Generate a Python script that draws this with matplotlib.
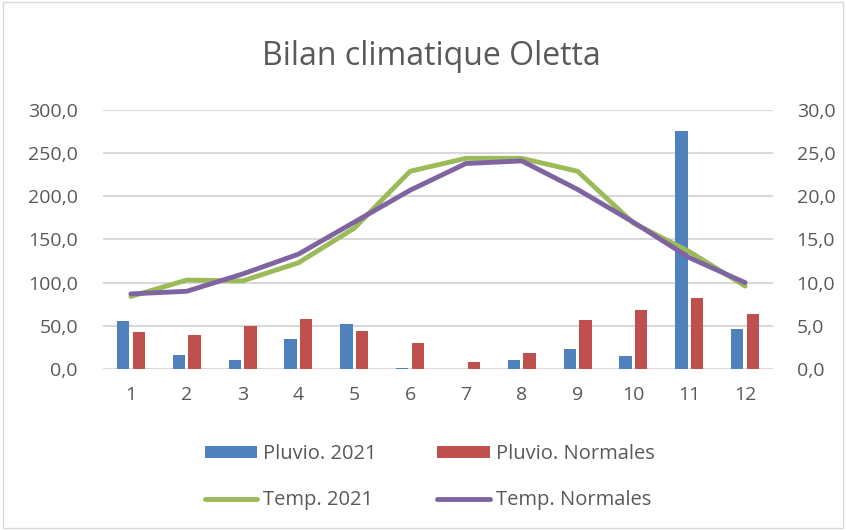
#!/usr/bin/env python3
import numpy as np
import matplotlib
matplotlib.use("Agg")
import matplotlib.pyplot as plt
from matplotlib.ticker import FuncFormatter
from matplotlib.patches import Rectangle

months = [1, 2, 3, 4, 5, 6, 7, 8, 9, 10, 11, 12]
pluvio_2021 = [55.4, 16.6, 10.1, 35.3, 52.4, 1.5, 0.0, 10.1, 23.6, 14.7, 275.1, 46.1]
pluvio_normales = [43.4, 39.1, 50.0, 57.4, 43.8, 30.6, 8.5, 18.6, 56.6, 67.9, 81.8, 63.2]
temp_2021 = [8.4, 10.3, 10.2, 12.3, 16.3, 22.9, 24.4, 24.4, 22.9, 16.9, 13.6, 9.6]
temp_normales = [8.7, 9.0, 11.0, 13.3, 17.0, 20.7, 23.8, 24.1, 20.8, 17.0, 12.9, 10.0]

BLUE = "#4F81BD"
RED = "#C0504D"
GREEN = "#9BBB59"
PURPLE = "#8064A2"
TXT = "#595959"
GRID = "#D9D9D9"


def comma_fmt(v, pos):
    return f"{v:.1f}".replace(".", ",")


def main():
    plt.rcParams["font.family"] = ["Open Sans", "DejaVu Sans"]
    fig = plt.figure(figsize=(8.46, 5.30), dpi=100)
    fig.patches.append(Rectangle((0.003, 0.004), 0.994, 0.992, transform=fig.transFigure,
                                 fill=False, edgecolor=GRID, linewidth=1.0))

    ax = fig.add_axes([0.1217, 0.3038, 0.7920, 0.4887])
    x = np.arange(len(months))
    w = 0.22
    ax.bar(x - 0.14, pluvio_2021, w, color=BLUE, label="Pluvio. 2021", zorder=2)
    ax.bar(x + 0.14, pluvio_normales, w, color=RED, label="Pluvio. Normales", zorder=2)
    ax.set_ylim(0, 300)
    ax.set_yticks(np.arange(0, 301, 50))
    ax.yaxis.set_major_formatter(FuncFormatter(comma_fmt))
    ax.set_xlim(-0.5, len(months) - 0.5)
    ax.set_xticks(x)
    ax.set_xticklabels([str(m) for m in months])
    ax.grid(axis="y", color=GRID, linewidth=1.5, zorder=0)
    ax.set_axisbelow(True)
    for s in ax.spines.values():
        s.set_visible(False)
    ax.tick_params(length=0, labelsize=14, colors=TXT)
    ax.tick_params(axis="x", pad=12)
    ax.tick_params(axis="y", pad=18)

    ax2 = ax.twinx()
    ax2.plot(x, temp_2021, color=GREEN, linewidth=3.5, label="Temp. 2021",
             solid_joinstyle="round", solid_capstyle="round")
    ax2.plot(x, temp_normales, color=PURPLE, linewidth=3.5, label="Temp. Normales",
             solid_joinstyle="round", solid_capstyle="round")
    ax2.set_ylim(0, 30)
    ax2.set_yticks(np.arange(0, 31, 5))
    ax2.yaxis.set_major_formatter(FuncFormatter(comma_fmt))
    for s in ax2.spines.values():
        s.set_visible(False)
    ax2.tick_params(length=0, labelsize=14, colors=TXT, pad=17)

    fig.text(0.510, 0.893, "Bilan climatique Oletta", ha="center", va="center",
             fontsize=23, color=TXT)

    h1, l1 = ax.get_legend_handles_labels()
    h2, l2 = ax2.get_legend_handles_labels()
    handles = [h1[0], h2[0], h1[1], h2[1]]
    labels = [l1[0], l2[0], l1[1], l2[1]]
    leg = fig.legend(handles, labels, ncol=2, loc="center", bbox_to_anchor=(0.508, 0.100),
                     frameon=False, fontsize=14.5, handlelength=2.6, handleheight=0.5,
                     handletextpad=0.3, columnspacing=3.0, labelspacing=1.3)
    for t in leg.get_texts():
        t.set_color(TXT)

    fig.savefig("out.png", dpi=100)
    plt.close(fig)


if __name__ == "__main__":
    main()
